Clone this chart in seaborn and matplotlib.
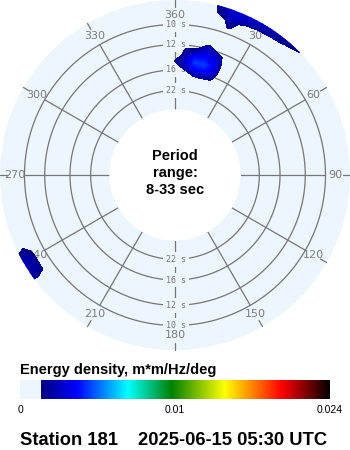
import numpy as np
import matplotlib
matplotlib.use("Agg")
import matplotlib.pyplot as plt
import seaborn as sns
from matplotlib.colors import LinearSegmentedColormap, TwoSlopeNorm
from matplotlib.cm import ScalarMappable

# ---------------- data ----------------
station = "Station 181"
timestamp = "2025-06-15 05:30 UTC"
period_range = "8-33 sec"
ring_periods = [10, 12, 16, 22]                 # seconds
dir_labels = ["360", "30", "60", "90", "120", "150", "180", "210", "240", "270", "300", "330"]
dir_label_angles = [0, 30, 60, 90, 120, 150, 180, 210, 240, 270, 300, 330]
cbar_ticks = [0, 0.01, 0.024]
cbar_ticklabels = ["0", "0.01", "0.024"]

# grid of the directional spectrum
grid_dirs = list(range(0, 365, 5))              # degrees (0..360)
grid_freqs = [0.025, 0.03, 0.035, 0.04, 0.045, 0.05, 0.055, 0.06, 0.065, 0.07,
              0.075, 0.08, 0.085, 0.09, 0.095, 0.10, 0.105, 0.11, 0.115, 0.12, 0.125, 0.13]

# non-zero energy cells (direction deg, frequency Hz, energy m*m/Hz/deg)
cell_dir = [0,
            5, 5, 5, 5,
            10, 10, 10, 10, 10,
            15, 15, 15, 15, 15, 15,
            20, 20, 20, 20, 20,
            15, 15, 15,
            20, 20, 20, 20, 20,
            25, 25, 25, 25,
            30, 30, 30,
            35, 35, 35,
            40, 40, 40,
            45, 45,
            235, 235, 235, 235,
            240, 240, 240, 240,
            245, 245, 245]
cell_freq = [0.07,
             0.065, 0.07, 0.075, 0.08,
             0.06, 0.065, 0.07, 0.075, 0.08,
             0.06, 0.065, 0.07, 0.075, 0.08, 0.085,
             0.06, 0.065, 0.07, 0.075, 0.08,
             0.115, 0.12, 0.125,
             0.105, 0.11, 0.115, 0.12, 0.125,
             0.11, 0.115, 0.12, 0.125,
             0.115, 0.12, 0.125,
             0.115, 0.12, 0.125,
             0.115, 0.12, 0.125,
             0.12, 0.125,
             0.11, 0.115, 0.12, 0.125,
             0.11, 0.115, 0.12, 0.125,
             0.11, 0.115, 0.12]
cell_energy = [0.0015,
               0.0022, 0.0027, 0.0022, 0.0015,
               0.0019, 0.0036, 0.0044, 0.0036, 0.0020,
               0.0021, 0.0037, 0.0044, 0.0037, 0.0029, 0.0022,
               0.0017, 0.0030, 0.0034, 0.0031, 0.0022,
               0.0015, 0.0017, 0.0017,
               0.0016, 0.0022, 0.0027, 0.0028, 0.0028,
               0.0006, 0.0024, 0.0028, 0.0028,
               0.0020, 0.0026, 0.0026,
               0.0016, 0.0023, 0.0024,
               0.0012, 0.0019, 0.0021,
               0.0015, 0.0017,
               0.0015, 0.0019, 0.0020, 0.0020,
               0.0016, 0.0022, 0.0022, 0.0020,
               0.0010, 0.0012, 0.0009]

# ---------------- style ----------------
sns.set_theme(style="white")
plt.rcParams["font.family"] = ["Liberation Sans", "DejaVu Sans"]

disk = "#EDF5FD"
gray = "#767676"
label_gray = "#7C7C7C"
threshold = 0.00136
cmap = LinearSegmentedColormap.from_list(
    "cdip",
    [(0.0, disk), (0.068, disk), (0.0681, "#000080"), (0.184, "#0000FF"),
     (0.348, "#00FFFF"), (0.49, "#008000"), (0.66, "#FFFF00"),
     (0.845, "#FF0000"), (1.0, "#000000")], N=1024)
norm = TwoSlopeNorm(vmin=0.0, vcenter=0.01, vmax=0.024)

W, H = 350, 450
fig = plt.figure(figsize=(W / 100, H / 100), dpi=100)
fig.patch.set_facecolor("white")

# polar axes: center (175,175) px, radius 175 px
ax = fig.add_axes([0, (H - 350) / H, 350 / W, 350 / H], projection="polar")
ax.set_theta_zero_location("N")
ax.set_theta_direction(-1)
r_origin = -0.02407
r_min, r_max = 0.0300, 0.1202
ax.set_rorigin(r_origin)
ax.set_rlim(r_min, r_max)
ax.set_facecolor(disk)
ax.patch.set_edgecolor("none")
ax.grid(False)
ax.set_xticks([])
ax.set_yticks([])
for sp in ax.spines.values():
    sp.set_linewidth(0)
    sp.set_edgecolor("none")
    sp.set_visible(False)

px_per_f = 175 / (r_max - r_origin)
def f_at_px(rpx):
    return rpx / px_per_f + r_origin

# energy grid
E = np.zeros((len(grid_freqs), len(grid_dirs)))
for d, f, e in zip(cell_dir, cell_freq, cell_energy):
    i = grid_freqs.index(f)
    j = grid_dirs.index(d)
    E[i, j] = e
    if d == 0:
        E[i, grid_dirs.index(360)] = e
TH, RR = np.meshgrid(np.radians(grid_dirs), grid_freqs)
levels = np.concatenate([np.linspace(threshold, 0.0050, 40), [0.024]])
ax.contourf(TH, RR, E, levels=levels, cmap=cmap, norm=norm, zorder=4, antialiased=False)

# rings
th_full = np.radians(np.linspace(0, 360, 721))
for p in ring_periods:
    f = 1.0 / p
    ax.plot(th_full, np.full_like(th_full, f), color=gray, lw=0.9, zorder=2)
    for ang in (0, 180):
        ax.annotate(f"{p} s", xy=(np.radians(ang), f), xytext=(1, 0),
                    textcoords="offset pixels", ha="center", va="center",
                    fontsize=6, color=gray, family="DejaVu Sans Mono", zorder=3,
                    bbox=dict(boxstyle="square,pad=0.35", fc=disk, ec="none"))

# spokes, outer ticks and direction labels
r_lab = f_at_px(160)
for ang, lab in zip(dir_label_angles, dir_labels):
    t = np.radians(ang)
    ax.plot([t, t], [r_min, 0.1], color=gray, lw=0.9, zorder=2)
    ax.plot([t, t], [f_at_px(168), r_max], color=gray, lw=0.9, zorder=2, clip_on=False)
    ax.text(t, r_lab, lab, ha="center", va="center", fontsize=8, color=label_gray,
            family="DejaVu Sans", zorder=3)

# center text
for txt, ybase in zip(["Period", "range:", period_range], [160, 177, 194]):
    fig.text(175 / W, 1 - ybase / H, txt, ha="center", va="baseline",
             fontsize=10.5, fontweight="bold", color="black")

# colorbar
fig.text(20 / W, 1 - 374 / H, "Energy density, m*m/Hz/deg", ha="left", va="baseline",
         fontsize=10.5, fontweight="bold", color="black")
cax = fig.add_axes([20 / W, 1 - 399 / H, 310 / W, 19 / H])
cb = fig.colorbar(ScalarMappable(norm=norm, cmap=cmap), cax=cax, orientation="horizontal")
cb.set_ticks(cbar_ticks)
cb.set_ticklabels(cbar_ticklabels)
cb.outline.set_visible(False)
cax.tick_params(length=0, labelsize=7.5, pad=4, colors="black")

# footer
fig.text(20 / W, 1 - 445 / H, station, ha="left", va="baseline",
         fontsize=13.2, fontweight="bold", color="black")
fig.text(138 / W, 1 - 445 / H, timestamp, ha="left", va="baseline",
         fontsize=13.2, fontweight="bold", color="black")

fig.savefig("out.png", dpi=100, facecolor="white")
